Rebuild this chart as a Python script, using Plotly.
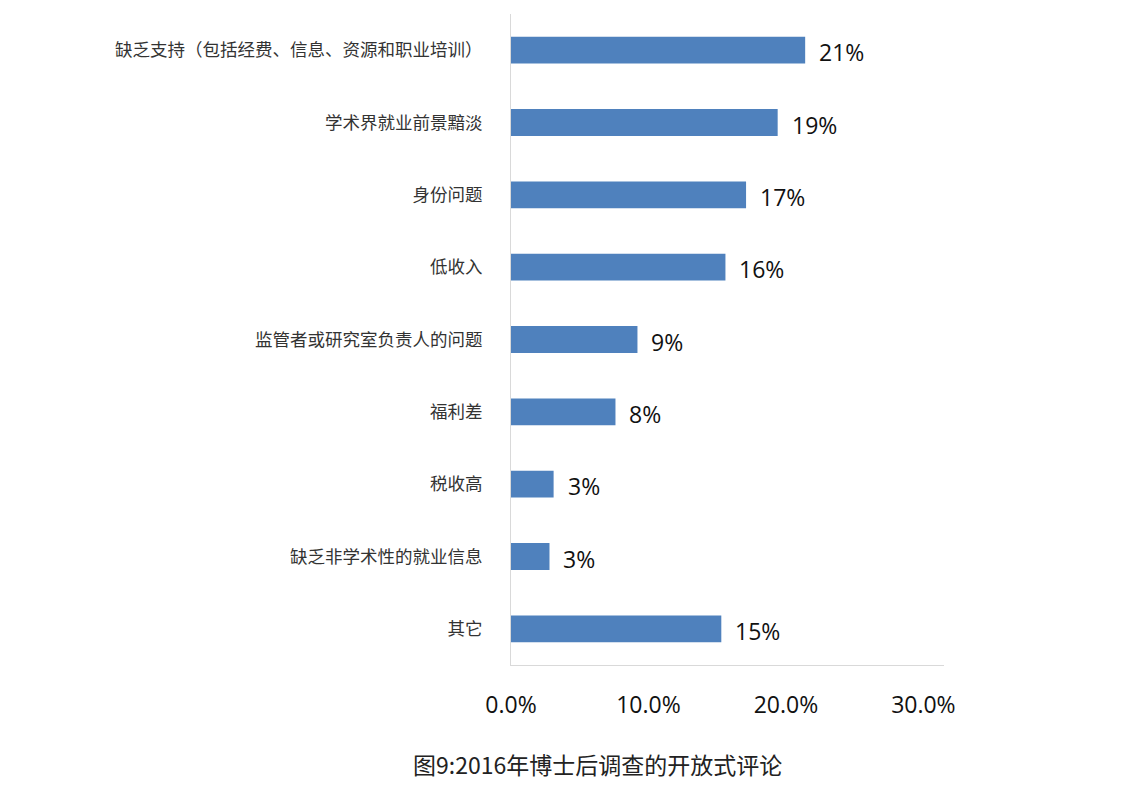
import plotly.graph_objects as go

# Categories (top to bottom) and values in percent
categories = [
    "缺乏支持（包括经费、信息、资源和职业培训）",
    "学术界就业前景黯淡",
    "身份问题",
    "低收入",
    "监管者或研究室负责人的问题",
    "福利差",
    "税收高",
    "缺乏非学术性的就业信息",
    "其它",
]
values = [21.4, 19.4, 17.1, 15.6, 9.2, 7.6, 3.1, 2.8, 15.3]
tick_vals = [0, 10, 20, 30]
tick_text = ["0.0%", "10.0%", "20.0%", "30.0%"]
title = "图9:2016年博士后调查的开放式评论"

fig = go.Figure()
fig.add_trace(go.Bar(
    x=values, y=categories, orientation="h",
    marker=dict(color="#4F81BD", line=dict(width=0)),
    width=0.37,
))

# value labels to the right of each bar
for v, c in zip(values, categories):
    fig.add_annotation(
        x=v, y=c, text=f"{v:.0f}%", showarrow=False,
        xanchor="left", xshift=12, yshift=-2,
        font=dict(family="Open Sans, Noto Sans, sans-serif", size=23, color="#111"),
    )

fig.add_annotation(
    x=0.2, y=-0.13, xref="paper", yref="paper", text=title, showarrow=False,
    xanchor="center", yanchor="top", yshift=5,
    font=dict(family="Noto Sans CJK SC", size=23, color="#222"),
)

fig.update_layout(
    width=1121, height=796,
    margin=dict(l=503, r=185, t=6, b=139),
    plot_bgcolor="white", paper_bgcolor="white",
    showlegend=False,
    xaxis=dict(
        range=[0, 31.5], tickvals=tick_vals, ticktext=tick_text,
        showgrid=False, zeroline=False,
        showline=True, linecolor="#d9d9d9", linewidth=1,
        ticks="", ticklabelstandoff=19,
        tickfont=dict(family="Open Sans, Noto Sans, sans-serif", size=23, color="#111"),
    ),
    yaxis=dict(
        autorange="reversed", showgrid=False, zeroline=False,
        showline=True, linecolor="#d9d9d9", linewidth=1,
        ticks="", ticklabelstandoff=24,
        tickfont=dict(family="Noto Sans CJK SC", size=17.5, color="#333"),
    ),
)

fig.write_html("out.html")
